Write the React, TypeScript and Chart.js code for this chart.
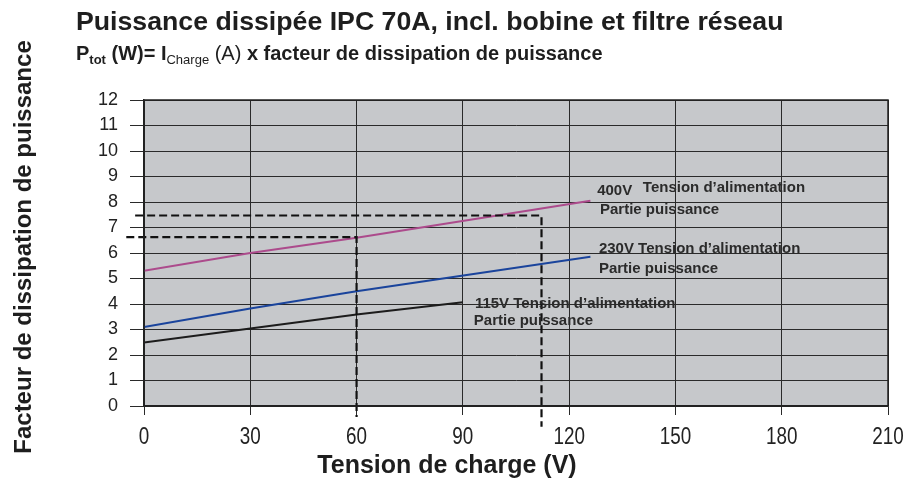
import React, { useEffect, useRef } from "react";
import { Chart, registerables } from "chart.js";

Chart.register(...registerables);

// ---- Data ----
const xTickValues = [0, 30, 60, 90, 120, 150, 180, 210];
const yTickValues = [0, 1, 2, 3, 4, 5, 6, 7, 8, 9, 10, 11, 12];

const supply400X = [0, 30, 60, 126];
const supply400Y = [5.3, 6.0, 6.6, 8.05];

const supply230X = [0, 30, 60, 126];
const supply230Y = [3.1, 3.82, 4.5, 5.85];

const supply115X = [0, 30, 60, 90];
const supply115Y = [2.49, 3.04, 3.59, 4.07];

const guideAX = [-5, 60, 60];
const guideAY = [6.62, 6.62, -0.43];

const guideBX = [-2.5, 112.2, 112.2];
const guideBY = [7.47, 7.47, -0.81];

const titleText = "Puissance dissipée IPC 70A, incl. bobine et filtre réseau";
const xTitle = "Tension de charge (V)";
const yTitle = "Facteur de dissipation de puissance";

// annotation texts anchored in data units
const seriesNotes = [
  { text: "400V", x: 127.9, y: 8.45 },
  { text: "Tension d\u2019alimentation", x: 140.8, y: 8.57 },
  { text: "Partie puissance", x: 128.7, y: 7.71 },
  { text: "230V Tension d\u2019alimentation", x: 128.4, y: 6.18 },
  { text: "Partie puissance", x: 128.4, y: 5.36 },
  { text: "115V Tension d\u2019alimentation", x: 93.4, y: 3.99 },
  { text: "Partie puissance", x: 93.1, y: 3.33 },
];

const FONT = '"Liberation Sans", Arial, sans-serif';

const toPoints = (xs: number[], ys: number[]) => xs.map((x, i) => ({ x, y: ys[i] }));

const bgPlugin = {
  id: "bgPlugin",
  beforeDraw(chart: any) {
    const { ctx, chartArea } = chart;
    ctx.save();
    ctx.fillStyle = "#c6c8cb";
    ctx.fillRect(chartArea.left, chartArea.top, chartArea.right - chartArea.left, chartArea.bottom - chartArea.top);
    ctx.restore();
  },
};

const textPlugin = {
  id: "textPlugin",
  afterDraw(chart: any) {
    const { ctx, chartArea, scales } = chart;
    ctx.save();
    ctx.fillStyle = "#1e1e1e";
    ctx.textBaseline = "alphabetic";
    ctx.textAlign = "left";

    // title
    ctx.font = `bold 26.7px ${FONT}`;
    ctx.fillText(titleText, 76, 30);

    // subtitle with subscripts
    let x = 76;
    const base = 60;
    const parts: { t: string; f: string; dy: number }[] = [
      { t: "P", f: `bold 20px ${FONT}`, dy: 0 },
      { t: "tot", f: `bold 13px ${FONT}`, dy: 4 },
      { t: " (W)= I", f: `bold 20px ${FONT}`, dy: 0 },
      { t: "Charge", f: `13px ${FONT}`, dy: 4 },
      { t: " (A)", f: `20px ${FONT}`, dy: 0 },
      { t: " x facteur de dissipation de puissance", f: `bold 20px ${FONT}`, dy: 0 },
    ];
    for (const p of parts) {
      ctx.font = p.f;
      ctx.fillText(p.t, x, base + p.dy);
      x += ctx.measureText(p.t).width;
    }

    // x tick labels (condensed)
    ctx.fillStyle = "#222";
    ctx.textAlign = "center";
    ctx.textBaseline = "middle";
    ctx.font = `23px ${FONT}`;
    for (const v of xTickValues) {
      ctx.save();
      ctx.translate(scales.x.getPixelForValue(v), 438);
      ctx.scale(0.82, 1);
      ctx.fillText(String(v), 0, 0);
      ctx.restore();
    }

    // x axis title
    ctx.fillStyle = "#1e1e1e";
    ctx.textBaseline = "alphabetic";
    ctx.font = `bold 25px ${FONT}`;
    ctx.textAlign = "center";
    ctx.fillText(xTitle, 447, 473);

    // y axis title
    ctx.save();
    ctx.translate(31, 247);
    ctx.rotate(-Math.PI / 2);
    ctx.font = `bold 24px ${FONT}`;
    ctx.textAlign = "center";
    ctx.fillText(yTitle, 0, 0);
    ctx.restore();

    // series notes
    ctx.font = `bold 15px ${FONT}`;
    ctx.fillStyle = "#2b2b2b";
    ctx.textAlign = "left";
    ctx.textBaseline = "middle";
    for (const n of seriesNotes) {
      ctx.fillText(n.text, scales.x.getPixelForValue(n.x), scales.y.getPixelForValue(n.y));
    }

    // plot border
    ctx.strokeStyle = "#222";
    ctx.lineWidth = 1.5;
    ctx.strokeRect(chartArea.left, chartArea.top, chartArea.right - chartArea.left, chartArea.bottom - chartArea.top);
    ctx.restore();
  },
};

export default function App() {
  const ref = useRef<HTMLCanvasElement | null>(null);

  useEffect(() => {
    if (!ref.current) return;
    const solid = (data: any, color: string) => ({
      data,
      borderColor: color,
      backgroundColor: color,
      borderWidth: 2,
      pointRadius: 0,
      showLine: true,
      fill: false,
    });
    const dashed = (data: any) => ({
      data,
      borderColor: "#111",
      backgroundColor: "#111",
      borderWidth: 2.2,
      borderDash: [8, 4],
      pointRadius: 0,
      showLine: true,
      fill: false,
      clip: false,
    });
    const chart = new Chart(ref.current, {
      type: "scatter",
      data: {
        datasets: [
          dashed(toPoints(guideAX, guideAY)),
          dashed(toPoints(guideBX, guideBY)),
          solid(toPoints(supply115X, supply115Y), "#1c1c1c"),
          solid(toPoints(supply230X, supply230Y), "#1a449c"),
          solid(toPoints(supply400X, supply400Y), "#ac4b8c"),
        ] as any,
      },
      plugins: [bgPlugin, textPlugin],
      options: {
        animation: false,
        responsive: true,
        maintainAspectRatio: false,
        layout: { padding: { top: 100, right: 22, left: 0, bottom: 0 } },
        plugins: { legend: { display: false }, tooltip: { enabled: false } },
        scales: {
          x: {
            type: "linear",
            min: 0,
            max: 210,
            afterFit: (s: any) => {
              s.height = 73;
            },
            afterBuildTicks: (s: any) => {
              s.ticks = xTickValues.map((v) => ({ value: v }));
            },
            grid: { color: "#2a2a2a", lineWidth: 1, tickLength: 9 },
            border: { color: "#222", width: 1.5 },
            ticks: { display: false },
          },
          y: {
            type: "linear",
            min: 0,
            max: 12,
            afterFit: (s: any) => {
              s.width = 144;
            },
            afterBuildTicks: (s: any) => {
              s.ticks = yTickValues.map((v) => ({ value: v }));
            },
            grid: { color: "#2a2a2a", lineWidth: 1, tickLength: 14 },
            border: { color: "#222", width: 1.5 },
            ticks: {
              color: "#222",
              padding: 12,
              font: { family: FONT, size: 18 },
            },
          },
        },
      } as any,
    });
    return () => chart.destroy();
  }, []);

  return (
    <div style={{ position: "absolute", left: 0, top: 0, width: 910, height: 479, background: "#fff" }}>
      <canvas ref={ref} />
    </div>
  );
}
